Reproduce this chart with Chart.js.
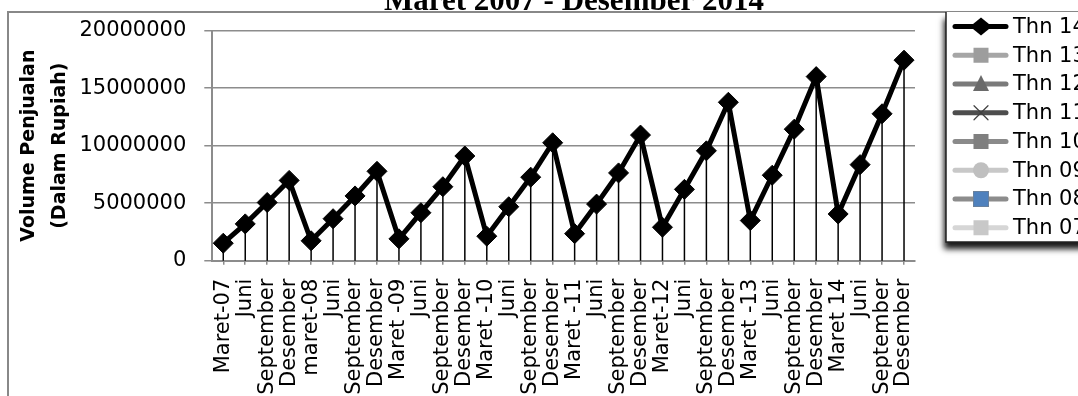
<!DOCTYPE html>
<html>
<head>
<meta charset="utf-8">
<script src="https://cdn.jsdelivr.net/npm/chart.js@4.4.1/dist/chart.umd.min.js"></script>
<style>
  html, body { margin: 0; padding: 0; background: #fff; overflow: hidden; }
  #wrap { width: 1078px; height: 396px; }
</style>
</head>
<body>
<div id="wrap"><canvas id="salesChart" width="1078" height="396"></canvas></div>
<script>
// ── Data ──
const periodLabels = [
    'Maret-07', 'Juni', 'September', 'Desember',
    'maret-08', 'Juni', 'September', 'Desember',
    'Maret -09', 'Juni', 'September', 'Desember',
    'Maret -10', 'Juni', 'September', 'Desember',
    'Maret -11', 'Juni', 'September', 'Desember',
    'Maret-12', 'Juni', 'September', 'Desember',
    'Maret -13', 'Juni', 'September', 'Desember',
    'Maret 14', 'Juni', 'September', 'Desember'
];

const salesThn14 = [
    1520000, 3200000, 5060000, 6980000,
    1730000, 3650000, 5630000, 7770000,
    1900000, 4170000, 6430000, 9100000,
    2130000, 4690000, 7260000, 10250000,
    2350000, 4920000, 7630000, 10920000,
    2910000, 6200000, 9550000, 13770000,
    3490000, 7430000, 11430000, 16000000,
    4060000, 8350000, 12770000, 17430000
];

const seriesNames = ['Thn 14', 'Thn 13', 'Thn 12', 'Thn 11', 'Thn 10', 'Thn 09', 'Thn 08', 'Thn 07'];
const seriesLineColors = ['#000000', '#a6a6a6', '#7a7a7a', '#4d4d4d', '#8a8a8a', '#c8c8c8', '#8c8c8c', '#d6d6d6'];
const seriesMarkerColors = ['#000000', '#9d9d9d', '#6a6a6a', '#404040', '#7f7f7f', '#bfbfbf', '#4f81bd', '#c8c8c8'];
const seriesMarkers = ['rectRot', 'rect', 'triangle', 'crossRot', 'rect', 'circle', 'rect', 'rect'];

const yTicks = [0, 5000000, 10000000, 15000000, 20000000];
const chartTitle = 'Maret 2007 - Desember 2014';
const yTitle = ['Volume Penjualan', '(Dalam Rupiah)'];

const GRID = '#8c8c8c';
const FONT = 'DejaVu Sans';

// ── Datasets (only Thn 14 carries values, the rest are legend-only) ──
const datasets = seriesNames.map((name, i) => ({
    label: name,
    data: i === 0 ? salesThn14 : [],
    borderColor: seriesLineColors[i],
    backgroundColor: seriesMarkerColors[i],
    borderWidth: 5,
    pointStyle: seriesMarkers[i],
    pointRadius: 10,
    pointHoverRadius: 10,
    pointBorderWidth: 1,
    pointBorderColor: seriesMarkerColors[i],
    tension: 0
}));

// ── Frame + title ──
const framePlugin = {
    id: 'frame',
    beforeDraw(chart) {
        const ctx = chart.ctx;
        ctx.save();
        ctx.fillStyle = '#fff';
        ctx.fillRect(0, 0, chart.width, chart.height);
        ctx.strokeStyle = '#888';
        ctx.lineWidth = 2;
        ctx.beginPath();
        ctx.moveTo(8, chart.height + 5);
        ctx.lineTo(8, 12);
        ctx.lineTo(chart.width + 5, 12);
        ctx.stroke();
        ctx.fillStyle = '#000';
        ctx.font = 'bold 31px "Liberation Serif"';
        ctx.textAlign = 'center';
        ctx.textBaseline = 'alphabetic';
        ctx.fillText(chartTitle, 574, 10);
        ctx.restore();
    }
};

// ── Drop lines from every point to the axis ──
const dropLinePlugin = {
    id: 'dropLines',
    beforeDatasetsDraw(chart) {
        const ctx = chart.ctx;
        const base = chart.scales.y.getPixelForValue(0);
        const meta = chart.getDatasetMeta(0);
        ctx.save();
        ctx.strokeStyle = '#000';
        ctx.lineWidth = 1.5;
        meta.data.forEach(pt => {
            ctx.beginPath();
            ctx.moveTo(pt.x, pt.y);
            ctx.lineTo(pt.x, base);
            ctx.stroke();
        });
        ctx.restore();
    }
};

function drawMarker(ctx, style, x, y, fill) {
    ctx.fillStyle = fill;
    ctx.strokeStyle = fill;
    ctx.beginPath();
    if (style === 'rectRot') {
        ctx.moveTo(x - 11, y); ctx.lineTo(x, y - 9); ctx.lineTo(x + 11, y); ctx.lineTo(x, y + 9);
        ctx.closePath(); ctx.fill();
    } else if (style === 'rect') {
        ctx.fillRect(x - 7.5, y - 7.5, 15, 15);
    } else if (style === 'triangle') {
        ctx.moveTo(x, y - 9); ctx.lineTo(x + 8, y + 7); ctx.lineTo(x - 8, y + 7);
        ctx.closePath(); ctx.fill();
    } else if (style === 'crossRot') {
        ctx.lineWidth = 1.2;
        ctx.moveTo(x - 7, y - 7); ctx.lineTo(x + 7, y + 7);
        ctx.moveTo(x + 7, y - 7); ctx.lineTo(x - 7, y + 7);
        ctx.stroke();
    } else if (style === 'circle') {
        ctx.arc(x, y, 8, 0, Math.PI * 2); ctx.fill();
    }
}

// ── Legend box on the right ──
const legendPlugin = {
    id: 'boxLegend',
    afterDraw(chart) {
        const ctx = chart.ctx;
        const bx = 946, by = 12, bw = 200, bh = 230;
        ctx.save();
        ctx.shadowColor = 'rgba(0,0,0,0.9)';
        ctx.shadowBlur = 6;
        ctx.shadowOffsetX = -2;
        ctx.shadowOffsetY = 7;
        ctx.fillStyle = '#fff';
        ctx.fillRect(bx, by, bw, bh);
        ctx.restore();

        ctx.save();
        ctx.strokeStyle = '#222';
        ctx.lineWidth = 1.5;
        ctx.beginPath();
        ctx.moveTo(bx, by);
        ctx.lineTo(bx, by + bh);
        ctx.lineTo(bx + bw, by + bh);
        ctx.stroke();

        chart.data.datasets.forEach((ds, i) => {
            const y = 26.5 + i * 28.75;
            ctx.strokeStyle = ds.borderColor;
            ctx.lineWidth = 5;
            ctx.lineCap = 'round';
            ctx.beginPath();
            ctx.moveTo(955, y);
            ctx.lineTo(1006, y);
            ctx.stroke();
            if (i === 6) {
                ctx.fillStyle = '#808080';
                ctx.fillRect(973, y - 8, 16, 16);
            }
            drawMarker(ctx, ds.pointStyle, 981, y, ds.backgroundColor);
            ctx.fillStyle = '#000';
            ctx.font = '21px "' + FONT + '"';
            ctx.textAlign = 'left';
            ctx.textBaseline = 'middle';
            ctx.fillText(ds.label, 1013, y + 1);
        });
        ctx.restore();
    }
};

new Chart(document.getElementById('salesChart').getContext('2d'), {
    type: 'line',
    data: { labels: periodLabels, datasets: datasets },
    plugins: [framePlugin, dropLinePlugin, legendPlugin],
    options: {
        responsive: false,
        devicePixelRatio: 1,
        animation: false,
        layout: { padding: { left: 0, top: 27, right: 163, bottom: 0 } },
        plugins: {
            legend: { display: false },
            title: { display: false },
            tooltip: { enabled: false }
        },
        scales: {
            x: {
                type: 'category',
                offset: true,
                grid: {
                    drawOnChartArea: false,
                    drawTicks: true,
                    tickLength: 4,
                    color: GRID,
                    lineWidth: 1.5
                },
                border: { color: GRID, width: 2 },
                ticks: {
                    autoSkip: false,
                    minRotation: 90,
                    maxRotation: 90,
                    padding: 14,
                    color: '#000',
                    font: { family: FONT, size: 21 }
                },
                afterFit(scale) { scale.height = 396 - 260.7; }
            },
            y: {
                min: 0,
                max: 20000000,
                afterBuildTicks(scale) { scale.ticks = yTicks.map(v => ({ value: v })); },
                grid: { color: GRID, lineWidth: 1.5, tickLength: 8 },
                border: { color: GRID, width: 2 },
                ticks: {
                    padding: 18,
                    color: '#000',
                    font: { family: FONT, size: 21 },
                    callback: v => String(v)
                },
                title: {
                    display: true,
                    text: yTitle,
                    color: '#000',
                    font: { family: FONT, size: 19, weight: 'bold', lineHeight: 1.63 },
                    padding: { top: 14, bottom: 0 }
                },
                afterFit(scale) { scale.width = 212.3; }
            }
        }
    }
});
</script>
</body>
</html>
